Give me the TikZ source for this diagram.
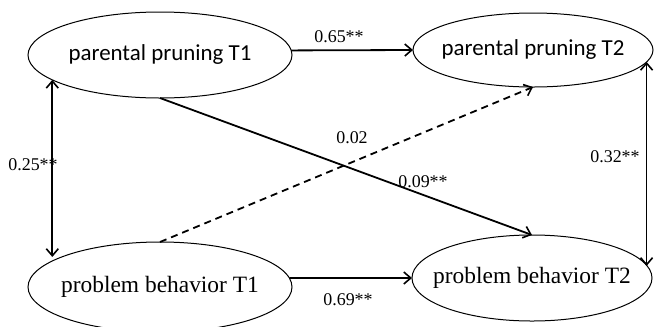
\documentclass[tikz,border=0pt]{standalone}
\usepackage{fontspec}
\setmainfont{Liberation Serif}
\newfontfamily\calib{Carlito}
\usetikzlibrary{shapes.geometric,arrows.meta}
\newcommand{\zw}[1]{\makebox[0pt]{#1}}
\begin{document}
\begin{tikzpicture}[x=1bp,y=-1bp,
  latent/.style={ellipse,draw,line width=1bp,inner sep=0pt,outer sep=0pt},
  topfont/.style={font=\calib\fontsize{23}{26}\selectfont},
  botfont/.style={font=\fontsize{23.5}{27}\selectfont},
  arr/.style={line width=1.8bp,-{Straight Barb[length=7bp,width=12bp,line width=1.6bp]}},
  dbl/.style={line width=1.8bp,{Straight Barb[length=7bp,width=12bp,line width=1.6bp]}-{Straight Barb[length=7bp,width=12bp,line width=1.6bp]}},
  coef/.style={font=\fontsize{18}{20}\selectfont,inner sep=0pt}]
\useasboundingbox (0,0) rectangle (654,326);
\node[latent,topfont,minimum width=264bp,minimum height=86bp] (tl) at (160,55) {\zw{parental pruning T1}};
\node[latent,topfont,minimum width=240bp,minimum height=74bp] (tr) at (533,50) {\zw{parental pruning T2}};
\node[latent,botfont,minimum width=264bp,minimum height=90bp] (bl) at (160,287) {\zw{problem behavior T1}};
\node[latent,botfont,minimum width=240bp,minimum height=86bp] (br) at (532,278) {\zw{problem behavior T2}};
% paths
\draw[arr] (tl.2.2) -- (tr.west);
\draw[arr] (bl.4.4) -- (br.west);
\draw[dbl] (tl.193.9) -- (tl.193.9 |- bl.163);
\draw[dbl] (tr.354) -- (tr.354 |- br.6);
\draw[arr] (tl.south) -- (br.north);
\draw[arr,dash pattern=on 7bp off 5bp] (bl.north) -- (tr.south);
% coefficients
\node[coef] (c1) at (339,37) {0.65**};
\node[coef] (c2) at (348,300) {0.69**};
\node[coef] (c3) at (33,165) {0.25**};
\node[coef] (c4) at (615,157) {0.32**};
\node[coef] (c5) at (352,138) {0.02};
\node[coef] (c6) at (423,182) {0.09**};
\end{tikzpicture}
\end{document}
